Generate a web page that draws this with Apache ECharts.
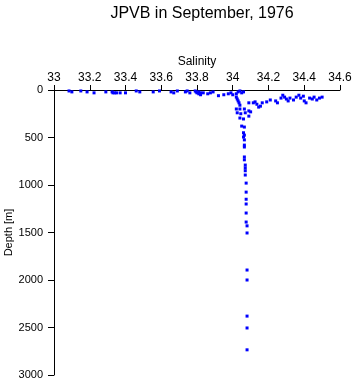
<!DOCTYPE html>
<html>
<head>
<meta charset="utf-8">
<script src="https://cdn.jsdelivr.net/npm/echarts@6/dist/echarts.min.js"></script>
<style>
  html, body { margin: 0; padding: 0; background: #fff; }
  #container { width: 353px; height: 384px; }
</style>
</head>
<body>
<div id="container"></div>
<script>
var salinity = [
    33.084, 33.10, 33.15, 33.185, 33.224, 33.29, 33.325, 33.33, 33.34, 33.35,
    33.37, 33.40, 33.46, 33.48, 33.555, 33.59, 33.655, 33.67, 33.69, 33.735,
    33.745, 33.76, 33.79, 33.795, 33.80, 33.81, 33.81, 33.82, 33.82, 33.835,
    33.86, 33.875, 33.89, 33.92, 33.95, 33.975, 33.99, 34.00, 34.02, 34.03,
    34.04, 34.05, 34.06,
    34.02, 34.025, 34.03, 34.035, 34.04, 34.02, 34.04, 34.065, 34.09, 34.09,
    34.025, 34.045, 34.07, 34.09, 34.04, 34.06, 34.05, 34.065, 34.06, 34.065,
    34.06, 34.065, 34.065, 34.065, 34.065, 34.065, 34.07, 34.07, 34.07, 34.07,
    34.075, 34.075, 34.075, 34.075, 34.075, 34.075, 34.08, 34.08, 34.08, 34.08,
    34.08, 34.08, 34.08,
    34.10, 34.115, 34.125, 34.135, 34.145, 34.155, 34.165, 34.19, 34.21, 34.24,
    34.25, 34.27, 34.28, 34.29, 34.30, 34.31, 34.32, 34.34, 34.355, 34.37,
    34.38, 34.395, 34.40, 34.41, 34.43, 34.445, 34.455, 34.47, 34.485, 34.50
];
var depth = [
    10, 20, 10, 20, 30, 20, 20, 30, 30, 30,
    30, 30, 10, 20, 20, 10, 20, 30, 10, 20,
    10, 30, 10, 20, 30, 40, 20, 30, 50, 30,
    40, 30, 20, 60, 50, 40, 30, 50, 40, 20,
    10, 30, 20,
    75, 95, 115, 135, 160, 200, 200, 200, 135, 220,
    240, 250, 240, 275, 295, 305, 380, 390, 450, 475,
    495, 525, 580, 600, 705, 735, 790, 820, 850, 895,
    980, 1075, 1150, 1200, 1295, 1390, 1430, 1505, 1895, 2000,
    2380, 2505, 2735,
    230, 135, 125, 150, 180, 170, 135, 125, 105, 115,
    135, 85, 55, 75, 95, 115, 85, 105, 75, 55,
    85, 65, 115, 135, 85, 95, 75, 105, 85, 75
];
var salinityTicks = [33, 34.6, 0.2];
var depthTicks = [0, 3000, 500];

var points = salinity.map(function (s, i) {
    return [s, depth[i]];
});

var dom = document.getElementById("container");
var myChart = echarts.init(dom, null, { renderer: "canvas" });
var font = "'Liberation Sans', Arial, sans-serif";

var option = {
    backgroundColor: "#fff",
    animation: false,
    textStyle: { fontFamily: font, color: "#000" },
    title: {
        text: "JPVB in September, 1976",
        left: 197,
        textAlign: "center",
        top: 1,
        textStyle: {
            fontFamily: font,
            fontWeight: "normal",
            fontSize: 16,
            color: "#000",
        },
    },
    grid: {
        left: 54,
        right: 13,
        top: 90,
        bottom: 9,
        containLabel: false,
        outerBoundsMode: "none",
    },
    xAxis: {
        type: "value",
        position: "top",
        name: "Salinity",
        nameLocation: "middle",
        nameGap: 22,
        nameMoveOverlap: false,
        nameTextStyle: { fontFamily: font, fontSize: 12, color: "#000" },
        min: salinityTicks[0],
        max: salinityTicks[1],
        interval: salinityTicks[2],
        axisLine: { show: true, onZero: false, lineStyle: { color: "#000", width: 1 } },
        axisTick: { show: true, inside: false, length: 5, lineStyle: { color: "#000" } },
        axisLabel: {
            fontFamily: font,
            fontSize: 12,
            color: "#000",
            margin: 6,
            formatter: function (v) {
                return String(Math.round(v * 10) / 10);
            },
        },
        splitLine: { show: false },
    },
    yAxis: {
        type: "value",
        inverse: true,
        name: "Depth [m]",
        nameLocation: "middle",
        nameGap: 40,
        nameRotate: 90,
        nameMoveOverlap: false,
        nameTextStyle: { fontFamily: font, fontSize: 11, color: "#000" },
        min: depthTicks[0],
        max: depthTicks[1],
        interval: depthTicks[2],
        axisLine: { show: true, onZero: false, lineStyle: { color: "#000", width: 1 } },
        axisTick: { show: true, inside: false, length: 6, lineStyle: { color: "#000" } },
        axisLabel: {
            fontFamily: font,
            fontSize: 11,
            color: "#000",
            margin: 11,
            formatter: function (v) {
                return String(v);
            },
        },
        splitLine: { show: false },
    },
    series: [
        {
            name: "JPVB",
            type: "scatter",
            symbol: "rect",
            symbolSize: 3,
            itemStyle: { color: "#0000ff", opacity: 1 },
            data: points,
        },
    ],
};

if (option && typeof option === "object") {
    myChart.setOption(option);
}
</script>
</body>
</html>
